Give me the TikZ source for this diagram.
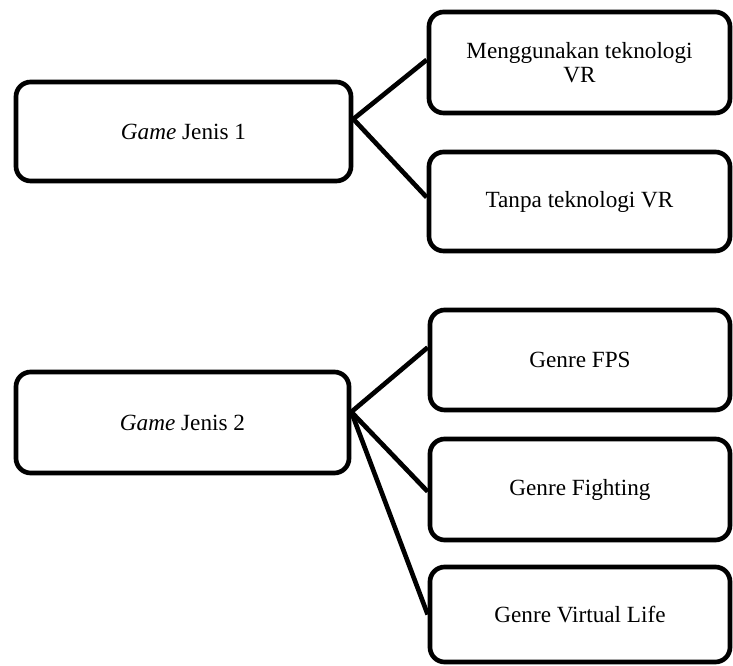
\documentclass[tikz,border=0pt]{standalone}
\usepackage{fontspec}
\setmainfont{Liberation Serif}
\usetikzlibrary{calc}
\begin{document}
\begin{tikzpicture}[x=0.75pt,y=-0.75pt,
  box/.style={draw=black,line width=3.5pt,rounded corners=11pt,align=center,
    font=\fontsize{17.4pt}{17.6pt}\selectfont,inner sep=0pt},
  conn/.style={draw=black,line width=3.5pt}]
\useasboundingbox (0,0) rectangle (733,666);
\node[box,minimum width=251.25pt,minimum height=74.25pt] (A1) at (183.5,131.5) {\textit{Game} Jenis 1};
\node[box,minimum width=225.75pt,minimum height=75.75pt] (B1) at (579.5,62.5) {Menggunakan teknologi\\VR};
\node[box,minimum width=225.75pt,minimum height=74.25pt] (B2) at (579.5,201.5) {Tanpa teknologi VR};
\node[box,minimum width=249.75pt,minimum height=75.75pt] (A2) at (182.5,422.5) {\textit{Game} Jenis 2};
\node[box,minimum width=225pt,minimum height=75pt] (C1) at (580,360) {Genre FPS};
\node[box,minimum width=225pt,minimum height=75.75pt] (C2) at (580,489.5) {Genre Fighting};
\node[box,minimum width=225pt,minimum height=71.25pt] (C3) at (580,614.5) {Genre Virtual Life};
\coordinate (a1o) at ($(A1.north east)!0.38!(A1.south east)$);
\coordinate (b1i) at ($(B1.north west)!0.475!(B1.south west)$);
\coordinate (b2i) at ($(B2.north west)!0.46!(B2.south west)$);
\coordinate (a2o) at ($(A2.north east)!0.40!(A2.south east)$);
\coordinate (c1i) at ($(C1.north west)!0.38!(C1.south west)$);
\coordinate (c2i) at ($(C2.north west)!0.52!(C2.south west)$);
\coordinate (c3i) at ($(C3.north west)!0.50!(C3.south west)$);
\draw[conn] (a1o) -- (b1i);
\draw[conn] (a1o) -- (b2i);
\draw[conn] (a2o) -- (c1i);
\draw[conn] (a2o) -- (c2i);
\draw[conn] (a2o) -- (c3i);
\end{tikzpicture}
\end{document}
